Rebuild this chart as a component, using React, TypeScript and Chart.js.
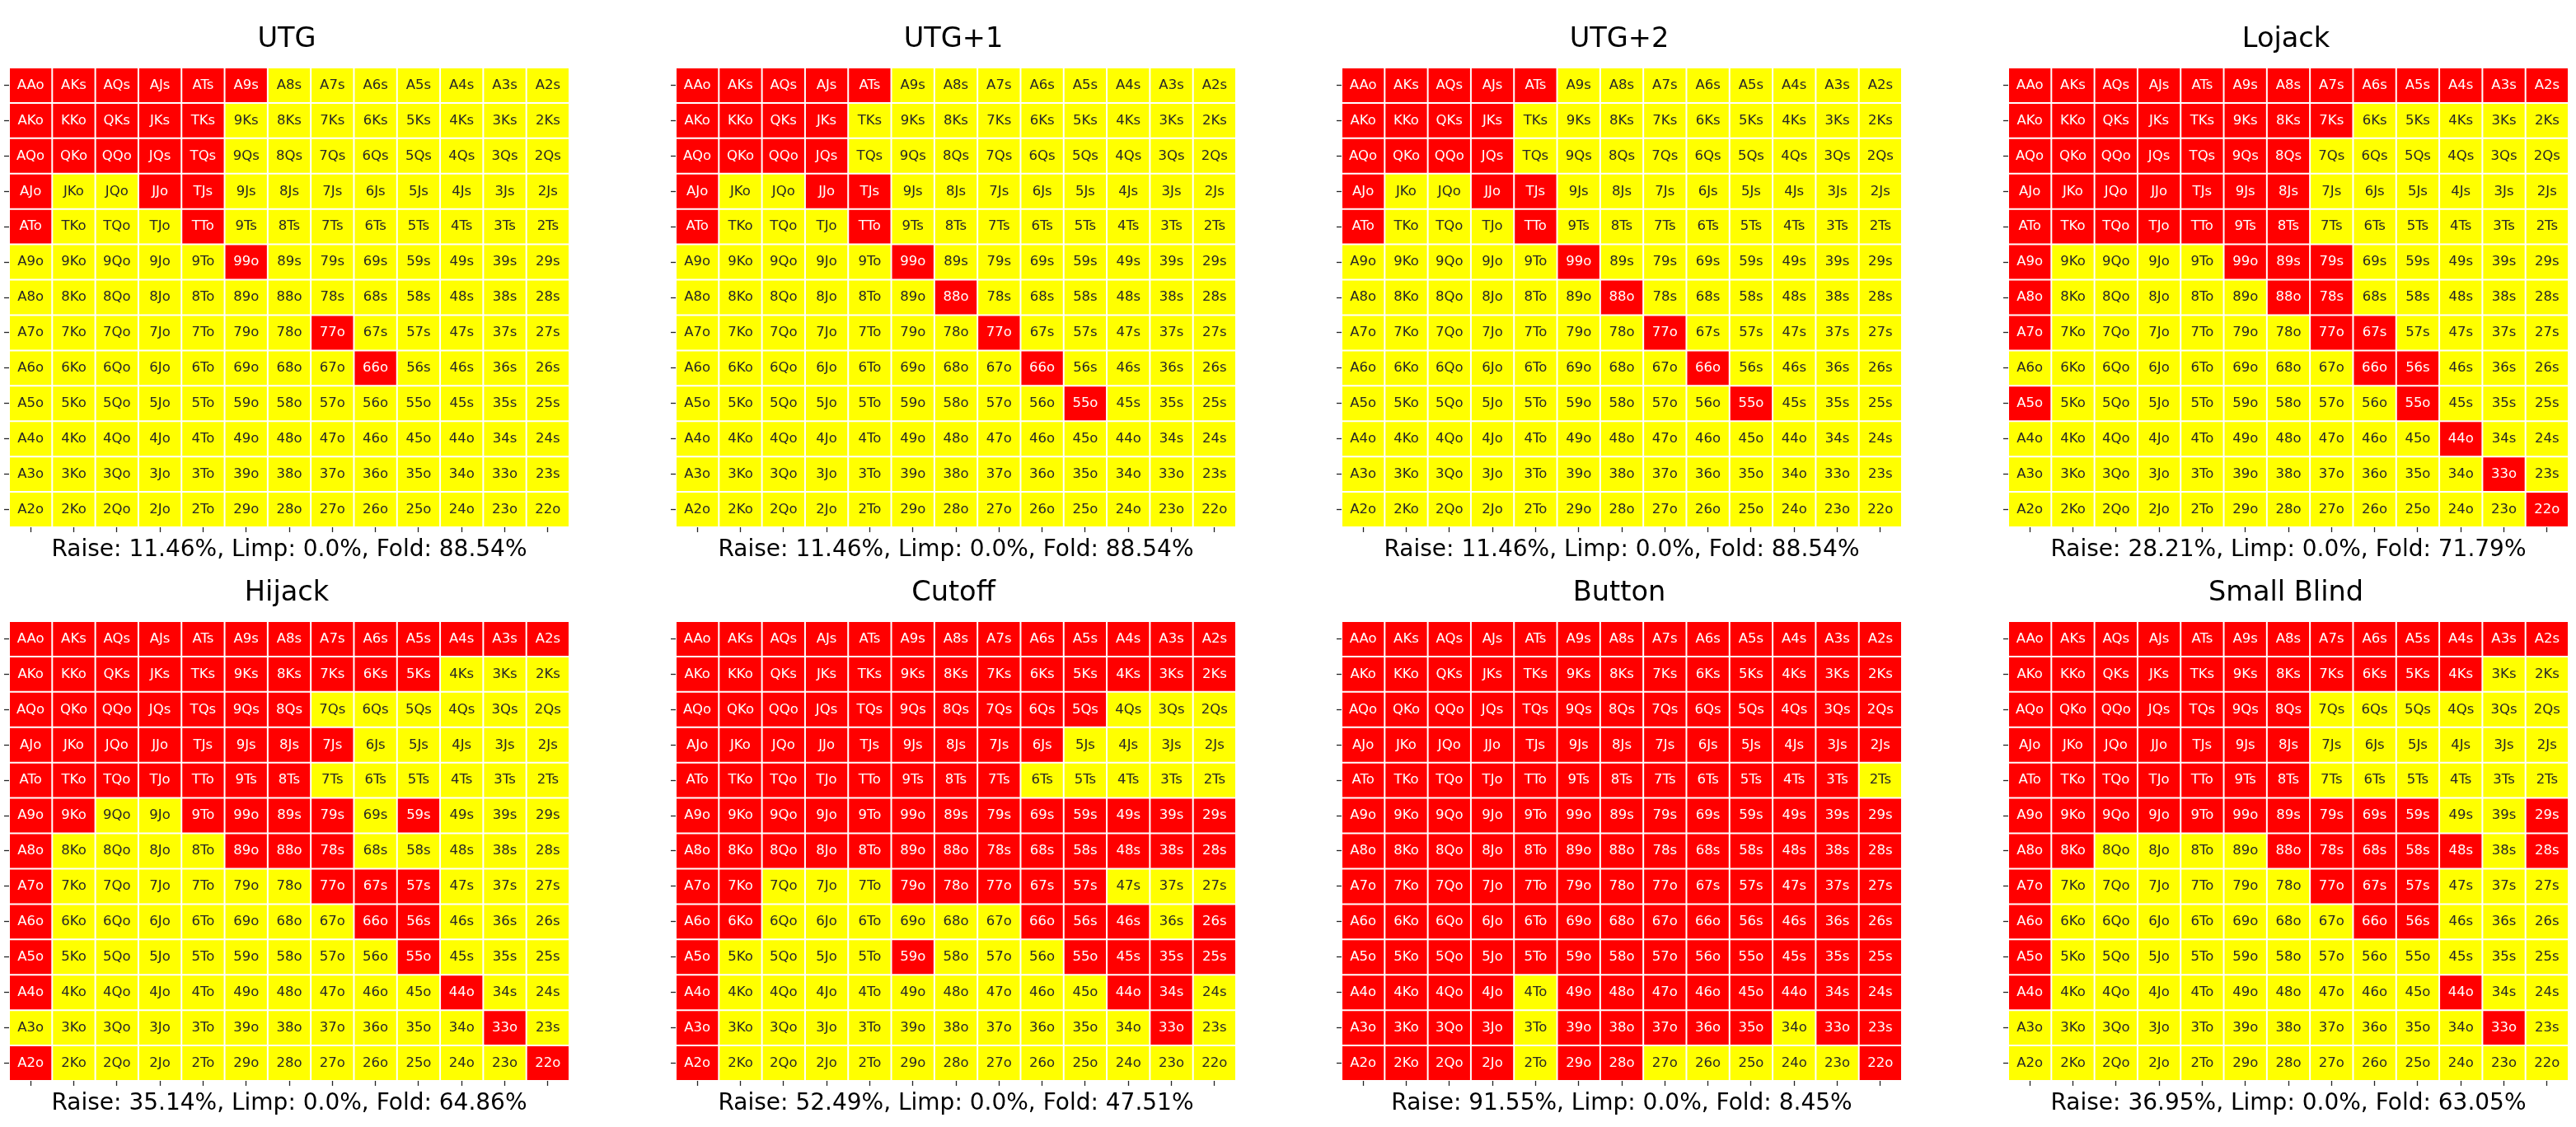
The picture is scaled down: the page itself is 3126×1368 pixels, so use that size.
import React, { useEffect, useRef } from 'react';
import { Chart, registerables } from 'chart.js';

Chart.register(...registerables);

// ---------- data ----------
const RANKS = ['A', 'K', 'Q', 'J', 'T', '9', '8', '7', '6', '5', '4', '3', '2'];
const POSITIONS = ['UTG', 'UTG+1', 'UTG+2', 'Lojack', 'Hijack', 'Cutoff', 'Button', 'Small Blind'];
const RAISE_PCT = ['11.46', '11.46', '11.46', '28.21', '35.14', '52.49', '91.55', '36.95'];
const LIMP_PCT = ['0.0', '0.0', '0.0', '0.0', '0.0', '0.0', '0.0', '0.0'];
const FOLD_PCT = ['88.54', '88.54', '88.54', '71.79', '64.86', '47.51', '8.45', '63.05'];

// R = raise, F = fold ; rows A..2, columns A..2
const UTG_RANGE = [
  'RRRRRRFFFFFFF',
  'RRRRRFFFFFFFF',
  'RRRRRFFFFFFFF',
  'RFFRRFFFFFFFF',
  'RFFFRFFFFFFFF',
  'FFFFFRFFFFFFF',
  'FFFFFFFFFFFFF',
  'FFFFFFFRFFFFF',
  'FFFFFFFFRFFFF',
  'FFFFFFFFFFFFF',
  'FFFFFFFFFFFFF',
  'FFFFFFFFFFFFF',
  'FFFFFFFFFFFFF',
];
const UTG1_RANGE = [
  'RRRRRFFFFFFFF',
  'RRRRFFFFFFFFF',
  'RRRRFFFFFFFFF',
  'RFFRRFFFFFFFF',
  'RFFFRFFFFFFFF',
  'FFFFFRFFFFFFF',
  'FFFFFFRFFFFFF',
  'FFFFFFFRFFFFF',
  'FFFFFFFFRFFFF',
  'FFFFFFFFFRFFF',
  'FFFFFFFFFFFFF',
  'FFFFFFFFFFFFF',
  'FFFFFFFFFFFFF',
];
const UTG2_RANGE = [
  'RRRRRFFFFFFFF',
  'RRRRFFFFFFFFF',
  'RRRRFFFFFFFFF',
  'RFFRRFFFFFFFF',
  'RFFFRFFFFFFFF',
  'FFFFFRFFFFFFF',
  'FFFFFFRFFFFFF',
  'FFFFFFFRFFFFF',
  'FFFFFFFFRFFFF',
  'FFFFFFFFFRFFF',
  'FFFFFFFFFFFFF',
  'FFFFFFFFFFFFF',
  'FFFFFFFFFFFFF',
];
const LOJACK_RANGE = [
  'RRRRRRRRRRRRR',
  'RRRRRRRRFFFFF',
  'RRRRRRRFFFFFF',
  'RRRRRRRFFFFFF',
  'RRRRRRRFFFFFF',
  'RFFFFRRRFFFFF',
  'RFFFFFRRFFFFF',
  'RFFFFFFRRFFFF',
  'FFFFFFFFRRFFF',
  'RFFFFFFFFRFFF',
  'FFFFFFFFFFRFF',
  'FFFFFFFFFFFRF',
  'FFFFFFFFFFFFR',
];
const HIJACK_RANGE = [
  'RRRRRRRRRRRRR',
  'RRRRRRRRRRFFF',
  'RRRRRRRFFFFFF',
  'RRRRRRRRFFFFF',
  'RRRRRRRFFFFFF',
  'RRFFRRRRFRFFF',
  'RFFFFRRRFFFFF',
  'RFFFFFFRRRFFF',
  'RFFFFFFFRRFFF',
  'RFFFFFFFFRFFF',
  'RFFFFFFFFFRFF',
  'FFFFFFFFFFFRF',
  'RFFFFFFFFFFFR',
];
const CUTOFF_RANGE = [
  'RRRRRRRRRRRRR',
  'RRRRRRRRRRRRR',
  'RRRRRRRRRRFFF',
  'RRRRRRRRRFFFF',
  'RRRRRRRRFFFFF',
  'RRRRRRRRRRRRR',
  'RRRRRRRRRRRRR',
  'RRFFFRRRRRFFF',
  'RRFFFFFFRRRFR',
  'RFFFFRFFFRRRR',
  'RFFFFFFFFFRRF',
  'RFFFFFFFFFFRF',
  'RFFFFFFFFFFFF',
];
const BUTTON_RANGE = [
  'RRRRRRRRRRRRR',
  'RRRRRRRRRRRRR',
  'RRRRRRRRRRRRR',
  'RRRRRRRRRRRRR',
  'RRRRRRRRRRRRF',
  'RRRRRRRRRRRRR',
  'RRRRRRRRRRRRR',
  'RRRRRRRRRRRRR',
  'RRRRRRRRRRRRR',
  'RRRRRRRRRRRRR',
  'RRRRFRRRRRRRR',
  'RRRRFRRRRRFRR',
  'RRRRFRRFFFFFR',
];
const SB_RANGE = [
  'RRRRRRRRRRRRR',
  'RRRRRRRRRRRFF',
  'RRRRRRRFFFFFF',
  'RRRRRRRFFFFFF',
  'RRRRRRRFFFFFF',
  'RRRRRRRRRRFFR',
  'RRFFFFRRRRRFR',
  'RFFFFFFRRRFFF',
  'RFFFFFFFRRFFF',
  'RFFFFFFFFFFFF',
  'RFFFFFFFFFRFF',
  'FFFFFFFFFFFRF',
  'FFFFFFFFFFFFF',
];
const RANGES = [UTG_RANGE, UTG1_RANGE, UTG2_RANGE, LOJACK_RANGE, HIJACK_RANGE, CUTOFF_RANGE, BUTTON_RANGE, SB_RANGE];

// ---------- styling / layout ----------
const FONT = 'DejaVu Sans';
const RED = '#ff0000';
const YELLOW = '#ffff00';
const GRID_LEFTS = [11, 820, 1628, 2437];
const GRID_TOPS = [82, 754];
const GRID_W = 680;
const GRID_H = 558;
const TICK_LEN = 6;
const TITLE_SIZE = 33.6;
const LABEL_SIZE = 28;
const CELL_FONT = 16.5;

function handLabel(i: number, j: number): string {
  if (i === j) return RANKS[i] + RANKS[i] + 'o';
  if (j > i) return (i === 0 ? 'A' + RANKS[j] : RANKS[j] + RANKS[i]) + 's';
  return (j === 0 ? 'A' + RANKS[i] : RANKS[i] + RANKS[j]) + 'o';
}

function RangeChart({ idx }: { idx: number }) {
  const ref = useRef<HTMLCanvasElement | null>(null);
  const col = idx % 4;
  const row = Math.floor(idx / 4);
  const gridLeft = GRID_LEFTS[col];
  const gridTop = GRID_TOPS[row];
  const canvasTop = row === 0 ? 0 : 690;
  const titlePadTop = row === 0 ? 28 : 10;
  const titleBlock = TITLE_SIZE * 1.2;
  const titlePadBottom = gridTop - canvasTop - titlePadTop - titleBlock;
  const xTitlePadTop = 5;
  const bottomNeeded = gridTop + GRID_H + TICK_LEN + xTitlePadTop + LABEL_SIZE * 1.2 + 2;
  const canvasH = Math.ceil(bottomNeeded - canvasTop);
  const xTitlePadBottom = canvasTop + canvasH - (gridTop + GRID_H + TICK_LEN + xTitlePadTop + LABEL_SIZE * 1.2);
  const padL = 3;
  const padR = 3;
  const canvasLeft = gridLeft - TICK_LEN - padL;
  const canvasW = GRID_W + TICK_LEN + padL + padR;

  useEffect(() => {
    const range = RANGES[idx];
    const datasets = range.map((rowStr, i) => ({
      label: RANKS[i],
      data: RANKS.map(() => [i, i + 1]),
      backgroundColor: rowStr.split('').map((c) => (c === 'R' ? RED : YELLOW)),
      borderColor: '#ffffff',
      borderWidth: 1.0,
      borderSkipped: false as const,
      grouped: false,
      barPercentage: 1,
      categoryPercentage: 1,
      inflateAmount: 0,
    }));

    const cellText = {
      id: 'cellText',
      afterDatasetsDraw(chart: any) {
        const { ctx } = chart;
        const xs = chart.scales.x;
        const ys = chart.scales.y;
        ctx.save();
        ctx.font = `${CELL_FONT}px "${FONT}"`;
        ctx.textAlign = 'center';
        ctx.textBaseline = 'middle';
        for (let i = 0; i < RANKS.length; i++) {
          for (let j = 0; j < RANKS.length; j++) {
            const raise = range[i][j] === 'R';
            ctx.fillStyle = raise ? '#ffffff' : '#262626';
            ctx.fillText(handLabel(i, j), xs.getPixelForValue(j), ys.getPixelForValue(i + 0.5));
          }
        }
        ctx.restore();
      },
    };

    const chart = new Chart(ref.current as HTMLCanvasElement, {
      type: 'bar',
      data: { labels: RANKS, datasets: datasets as any },
      options: {
        animation: false,
        responsive: false,
        events: [],
        layout: { padding: { left: padL, right: padR, top: 0, bottom: 0 } },
        plugins: {
          legend: { display: false },
          tooltip: { enabled: false },
          title: {
            display: true,
            text: POSITIONS[idx],
            color: '#000000',
            font: { family: FONT, size: TITLE_SIZE, weight: 'normal' },
            padding: { top: titlePadTop, bottom: titlePadBottom },
          },
        },
        scales: {
          x: {
            type: 'category',
            offset: true,
            border: { display: false },
            grid: {
              display: true,
              drawOnChartArea: false,
              drawTicks: true,
              tickLength: TICK_LEN,
              tickWidth: 1.3,
              tickColor: '#262626',
              offset: false,
            },
            ticks: { display: false },
            title: {
              display: true,
              text: `Raise: ${RAISE_PCT[idx]}%, Limp: ${LIMP_PCT[idx]}%, Fold: ${FOLD_PCT[idx]}%`,
              color: '#000000',
              font: { family: FONT, size: LABEL_SIZE, weight: 'normal' },
              padding: { top: xTitlePadTop, bottom: xTitlePadBottom },
            },
          },
          y: {
            type: 'linear',
            min: 0,
            max: RANKS.length,
            reverse: true,
            border: { display: false },
            afterBuildTicks: (scale: any) => {
              scale.ticks = RANKS.map((_, i) => ({ value: i + 0.5 }));
            },
            grid: {
              display: true,
              drawOnChartArea: false,
              drawTicks: true,
              tickLength: TICK_LEN,
              tickWidth: 1.3,
              tickColor: '#262626',
            },
            ticks: { display: false },
          },
        },
      },
      plugins: [cellText],
    } as any);
    return () => chart.destroy();
  }, [idx]);

  return (
    <canvas
      ref={ref}
      width={canvasW}
      height={canvasH}
      style={{ position: 'absolute', left: canvasLeft, top: canvasTop, width: canvasW, height: canvasH }}
    />
  );
}

export default function App() {
  return (
    <div style={{ position: 'absolute', left: 0, top: 0, width: 3126, height: 1368, background: '#ffffff', overflow: 'hidden' }}>
      {POSITIONS.map((_, i) => (
        <RangeChart key={i} idx={i} />
      ))}
    </div>
  );
}
